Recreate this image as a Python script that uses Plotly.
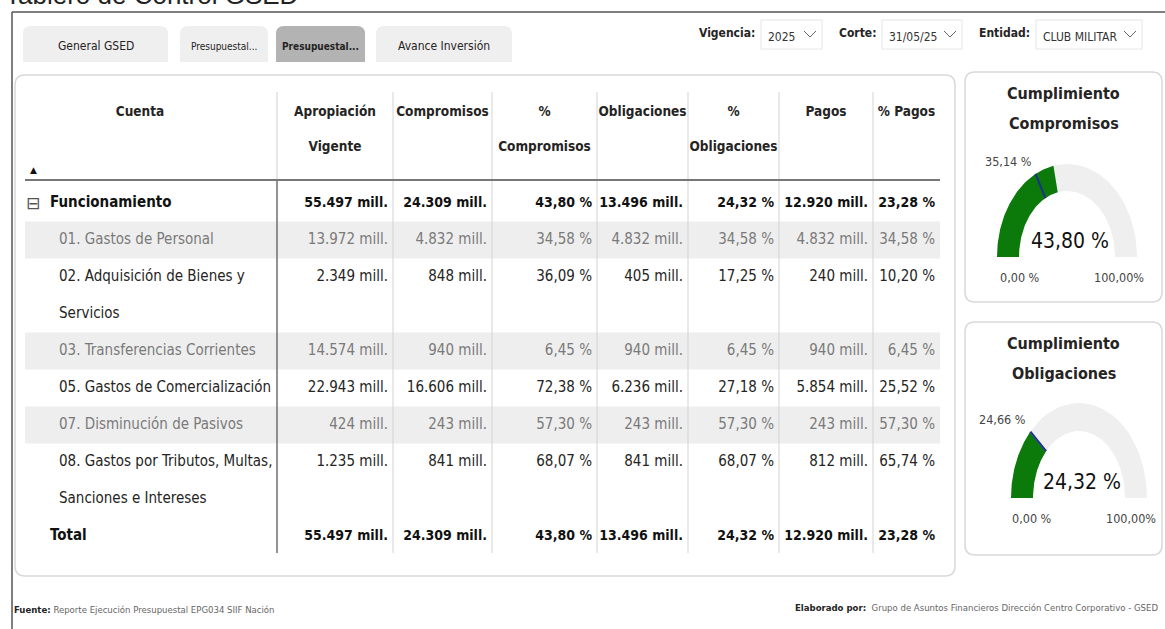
import numpy as np
import plotly.graph_objects as go

# ---------------- data ----------------
cuentas = [
    "Funcionamiento",
    "01. Gastos de Personal",
    "02. Adquisición de Bienes y\nServicios",
    "03. Transferencias Corrientes",
    "05. Gastos de Comercialización",
    "07. Disminución de Pasivos",
    "08. Gastos por Tributos, Multas,\nSanciones e Intereses",
    "Total",
]
row_level = [0, 1, 1, 1, 1, 1, 1, 0]          # 0 = parent / total (bold)
apropiacion = [55497, 13972, 2349, 14574, 22943, 424, 1235, 55497]
compromisos = [24309, 4832, 848, 940, 16606, 243, 841, 24309]
pct_compromisos = [43.80, 34.58, 36.09, 6.45, 72.38, 57.30, 68.07, 43.80]
obligaciones = [13496, 4832, 405, 940, 6236, 243, 841, 13496]
pct_obligaciones = [24.32, 34.58, 17.25, 6.45, 27.18, 57.30, 68.07, 24.32]
pagos = [12920, 4832, 240, 940, 5854, 243, 812, 12920]
pct_pagos = [23.28, 34.58, 10.20, 6.45, 25.52, 57.30, 65.74, 23.28]

headers = ["Cuenta", "Apropiación\nVigente", "Compromisos", "%\nCompromisos",
           "Obligaciones", "%\nObligaciones", "Pagos", "% Pagos"]

gauge_titles = ["Cumplimiento\nCompromisos", "Cumplimiento\nObligaciones"]
gauge_values = [43.80, 24.32]
gauge_targets = [35.14, 24.66]
gauge_min_label = "0,00 %"
gauge_max_label = "100,00%"

tab_labels = ["General GSED", "Presupuestal...", "Presupuestal...", "Avance Inversión"]
tab_active = 2
slicer_labels = ["Vigencia:", "Corte:", "Entidad:"]
slicer_values = ["2025", "31/05/25", "CLUB MILITAR"]

page_title = "Tablero de Control GSED"
footer_left = ("Fuente:", "Reporte Ejecución Presupuestal EPG034 SIIF Nación")
footer_right = ("Elaborado por:", "Grupo de Asuntos Financieros Dirección Centro Corporativo - GSED")

# ---------------- style / layout ----------------
FONT = "DejaVu Sans Condensed, Roboto, sans-serif"
W, H = 1165, 629
col_edges = [25, 277, 393, 492, 597, 688, 779, 873, 940]
HEADER_Y = [113, 148]
HEADER_LINE_Y = 180
FIRST_Y = 203
PITCH = 37
TABLE_BOTTOM = 553
BODY_SIZE = 15
BOLD_SIZE = 14
HEAD_SIZE = 13.5


def fmt_mill(v):
    return f"{v:,}".replace(",", ".") + " mill."


def fmt_pct(p):
    return f"{p:.2f}".replace(".", ",") + " %"


def rrect(x0, y0, x1, y1, r, top_only=False):
    if top_only:
        return (f"M{x0},{y1} L{x0},{y0 + r} Q{x0},{y0} {x0 + r},{y0} "
                f"L{x1 - r},{y0} Q{x1},{y0} {x1},{y0 + r} L{x1},{y1} Z")
    return (f"M{x0 + r},{y0} L{x1 - r},{y0} Q{x1},{y0} {x1},{y0 + r} "
            f"L{x1},{y1 - r} Q{x1},{y1} {x1 - r},{y1} L{x0 + r},{y1} "
            f"Q{x0},{y1} {x0},{y1 - r} L{x0},{y0 + r} Q{x0},{y0} {x0 + r},{y0} Z")


fig = go.Figure()
shapes = []
annotations = []


def add_text(x, y, text, size, color, xanchor="left", yanchor="middle", family=FONT):
    annotations.append(dict(x=x, y=y, xref="x", yref="y", text=text, showarrow=False,
                            xanchor=xanchor, yanchor=yanchor,
                            font=dict(family=family, size=size, color=color)))


# ---- page frame and title ----
shapes.append(dict(type="line", x0=12, y0=12, x1=W + 5, y1=12, line=dict(color="#555555", width=1.5)))
shapes.append(dict(type="line", x0=12, y0=12, x1=12, y1=H + 5, line=dict(color="#555555", width=1.5)))
add_text(3, 12, page_title, 26, "#222222", yanchor="bottom", family="Liberation Sans, Arial, sans-serif")

# ---- tabs ----
tab_x = [(23, 168), (180, 268), (276, 365), (376, 512)]
tab_sizes = [12, 10, 10, 12]
for i, (lab, (a, b)) in enumerate(zip(tab_labels, tab_x)):
    active = i == tab_active
    shapes.append(dict(type="path", path=rrect(a, 26, b, 62, 8, top_only=True),
                       fillcolor="#b3b3b3" if active else "#efefef",
                       line=dict(width=0), layer="below"))
    add_text((a + b) / 2, 46, f"<b>{lab}</b>" if active else lab, tab_sizes[i], "#252423",
             xanchor="center")

# ---- slicers ----
slicer_boxes = [(761, 822), (882, 962), (1036, 1142)]
for lab, val, (a, b) in zip(slicer_labels, slicer_values, slicer_boxes):
    shapes.append(dict(type="rect", x0=a, y0=20, x1=b, y1=49, fillcolor="white",
                       line=dict(color="#e6e6e6", width=1), layer="below"))
    add_text(a - 4, 33, f"<b>{lab}</b>", 12, "#252423", xanchor="right")
    add_text(a + 5, 37, val, 12, "#333333")
    cx = b - 12
    shapes.append(dict(type="path", path=f"M{cx - 6},{31} L{cx},{37} L{cx + 6},{31}",
                       line=dict(color="#666666", width=1)))

# ---- table card ----
shapes.append(dict(type="path", path=rrect(15, 75, 955, 576, 10), fillcolor="white",
                   line=dict(color="#d9d9d9", width=1.5), layer="below"))

n_lines = [len(c.split("\n")) for c in cuentas]
starts = np.concatenate([[0], np.cumsum(n_lines)[:-1]]).astype(int)

child_idx = 0
row_shaded = []
for lvl in row_level:
    if lvl == 1:
        row_shaded.append(child_idx % 2 == 0)
        child_idx += 1
    else:
        row_shaded.append(False)

for r, sh in enumerate(row_shaded):
    if sh:
        y0 = FIRST_Y + starts[r] * PITCH - PITCH / 2
        y1 = FIRST_Y + (starts[r] + n_lines[r] - 1) * PITCH + PITCH / 2
        shapes.append(dict(type="rect", x0=col_edges[0], x1=col_edges[-1], y0=y0, y1=y1,
                           fillcolor="#eeeeee", line=dict(width=0), layer="below"))

# column separators
for j, xe in enumerate(col_edges[1:-1]):
    if j == 0:
        shapes.append(dict(type="line", x0=xe, x1=xe, y0=92, y1=HEADER_LINE_Y,
                           line=dict(color="#d0d0d0", width=1), layer="below"))
        shapes.append(dict(type="line", x0=xe, x1=xe, y0=HEADER_LINE_Y, y1=TABLE_BOTTOM,
                           line=dict(color="#6f6f6f", width=1.5), layer="below"))
    else:
        shapes.append(dict(type="line", x0=xe, x1=xe, y0=92, y1=TABLE_BOTTOM,
                           line=dict(color="#d3d3d3", width=1), layer="below"))
shapes.append(dict(type="line", x0=col_edges[0], x1=col_edges[-1], y0=HEADER_LINE_Y, y1=HEADER_LINE_Y,
                   line=dict(color="#777777", width=2), layer="below"))

# header text
hx, hy, ht = [], [], []
for j, h in enumerate(headers):
    cxh = (col_edges[j] + col_edges[j + 1]) / 2 if j > 0 else 140
    for k, part in enumerate(h.split("\n")):
        hx.append(cxh)
        hy.append(HEADER_Y[k])
        ht.append(f"<b>{part}</b>")
fig.add_trace(go.Scatter(x=hx, y=hy, text=ht, mode="text", textposition="middle center",
                         textfont=dict(family=FONT, size=HEAD_SIZE, color="#252423"),
                         hoverinfo="skip", showlegend=False))
add_text(33, 170, "▲", 9, "#111111", xanchor="center", family="DejaVu Sans, sans-serif")


def row_color(r):
    if row_level[r] == 0:
        return "#111111"
    return "#7a7a7a" if row_shaded[r] else "#252423"


def row_size(r):
    return BOLD_SIZE if row_level[r] == 0 else BODY_SIZE


# account labels
lx, ly, lt, lc, ls = [], [], [], [], []
for r, c in enumerate(cuentas):
    for k, part in enumerate(c.split("\n")):
        lx.append(50 if row_level[r] == 0 else 59)
        ly.append(FIRST_Y + (starts[r] + k) * PITCH)
        lt.append(f"<b>{part}</b>" if row_level[r] == 0 else part)
        lc.append(row_color(r))
        ls.append(row_size(r) + (1 if row_level[r] == 0 else 0))
fig.add_trace(go.Scatter(x=lx, y=ly, text=lt, mode="text", textposition="middle right",
                         textfont=dict(family=FONT, size=ls, color=lc),
                         hoverinfo="skip", showlegend=False))
add_text(33, FIRST_Y, "⊟", 17, "#555555", xanchor="center", family="DejaVu Sans, sans-serif")

# numeric columns
value_cols = [
    [fmt_mill(v) for v in apropiacion],
    [fmt_mill(v) for v in compromisos],
    [fmt_pct(v) for v in pct_compromisos],
    [fmt_mill(v) for v in obligaciones],
    [fmt_pct(v) for v in pct_obligaciones],
    [fmt_mill(v) for v in pagos],
    [fmt_pct(v) for v in pct_pagos],
]
vx, vy, vt, vc, vs = [], [], [], [], []
for j, col in enumerate(value_cols):
    for r, s in enumerate(col):
        vx.append(col_edges[j + 2] - 5)
        vy.append(FIRST_Y + starts[r] * PITCH)
        vt.append(f"<b>{s}</b>" if row_level[r] == 0 else s)
        vc.append(row_color(r))
        vs.append(row_size(r))
fig.add_trace(go.Scatter(x=vx, y=vy, text=vt, mode="text", textposition="middle left",
                         textfont=dict(family=FONT, size=vs, color=vc),
                         hoverinfo="skip", showlegend=False))

# ---- gauges ----
gauge_cards = [(965, 72, 1162, 302), (965, 322, 1162, 555)]
gauge_geom = [
    dict(cx=1067, cy=257, rxo=70, ryo=93, rxi=48, ryi=66, t1=93),
    dict(cx=1079, cy=498, rxo=68, ryo=95, rxi=46, ryi=67, t1=343),
]


def arc(g, p0, p1, n=80):
    th = np.pi * (1 - np.linspace(p0, p1, n) / 100.0)
    xo = g["cx"] + g["rxo"] * np.cos(th)
    yo = g["cy"] - g["ryo"] * np.sin(th)
    xi = g["cx"] + g["rxi"] * np.cos(th[::-1])
    yi = g["cy"] - g["ryi"] * np.sin(th[::-1])
    return np.concatenate([xo, xi, xo[:1]]), np.concatenate([yo, yi, yo[:1]])


for (a, b, c, d), g, title, val, tgt in zip(gauge_cards, gauge_geom, gauge_titles,
                                            gauge_values, gauge_targets):
    shapes.append(dict(type="path", path=rrect(a, b, c, d, 10), fillcolor="white",
                       line=dict(color="#d9d9d9", width=1.5), layer="below"))
    for k, part in enumerate(title.split("\n")):
        add_text((a + c) / 2, g["t1"] + 30 * k, f"<b>{part}</b>", 16, "#252423", xanchor="center")
    xs, ys = arc(g, 0, 100)
    fig.add_trace(go.Scatter(x=xs, y=ys, mode="lines", fill="toself", fillcolor="#efefef",
                             line=dict(width=0, color="#efefef"), hoverinfo="skip", showlegend=False))
    xs, ys = arc(g, 0, val)
    fig.add_trace(go.Scatter(x=xs, y=ys, mode="lines", fill="toself", fillcolor="#0b7a0b",
                             line=dict(width=0, color="#0b7a0b"), hoverinfo="skip", showlegend=False))
    th = np.pi * (1 - tgt / 100.0)
    tx = [g["cx"] + g["rxi"] * np.cos(th), g["cx"] + g["rxo"] * np.cos(th)]
    ty = [g["cy"] - g["ryi"] * np.sin(th), g["cy"] - g["ryo"] * np.sin(th)]
    fig.add_trace(go.Scatter(x=tx, y=ty, mode="lines", line=dict(color="#1f2f8f", width=2),
                             hoverinfo="skip", showlegend=False))
    add_text(tx[1] - 2, ty[1] - 3, fmt_pct(tgt), 12.5, "#444444", xanchor="right", yanchor="bottom")
    add_text(g["cx"] + 3, g["cy"] - 16, fmt_pct(val), 21, "#111111", xanchor="center")
    add_text(g["cx"] - 47, g["cy"] + 20, gauge_min_label, 12.5, "#444444", xanchor="center")
    add_text(g["cx"] + 52, g["cy"] + 20, gauge_max_label, 12.5, "#444444", xanchor="center")

# ---- footer ----
add_text(12, 609, f"<b>{footer_left[0]}</b> <span style='color:#666666'>{footer_left[1]}</span>",
         9.5, "#252423")
add_text(1160, 607, f"<b>{footer_right[0]}</b>  <span style='color:#666666'>{footer_right[1]}</span>",
         9.5, "#252423", xanchor="right")

fig.update_layout(
    width=W, height=H, margin=dict(l=0, r=0, t=0, b=0),
    paper_bgcolor="white", plot_bgcolor="white",
    xaxis=dict(range=[0, W], visible=False, fixedrange=True),
    yaxis=dict(range=[H, 0], visible=False, fixedrange=True),
    shapes=shapes, annotations=annotations, showlegend=False,
)
fig.write_html("out.html", config={"displayModeBar": False},
               post_script="document.body.style.margin='0px';document.body.style.padding='0px';")
